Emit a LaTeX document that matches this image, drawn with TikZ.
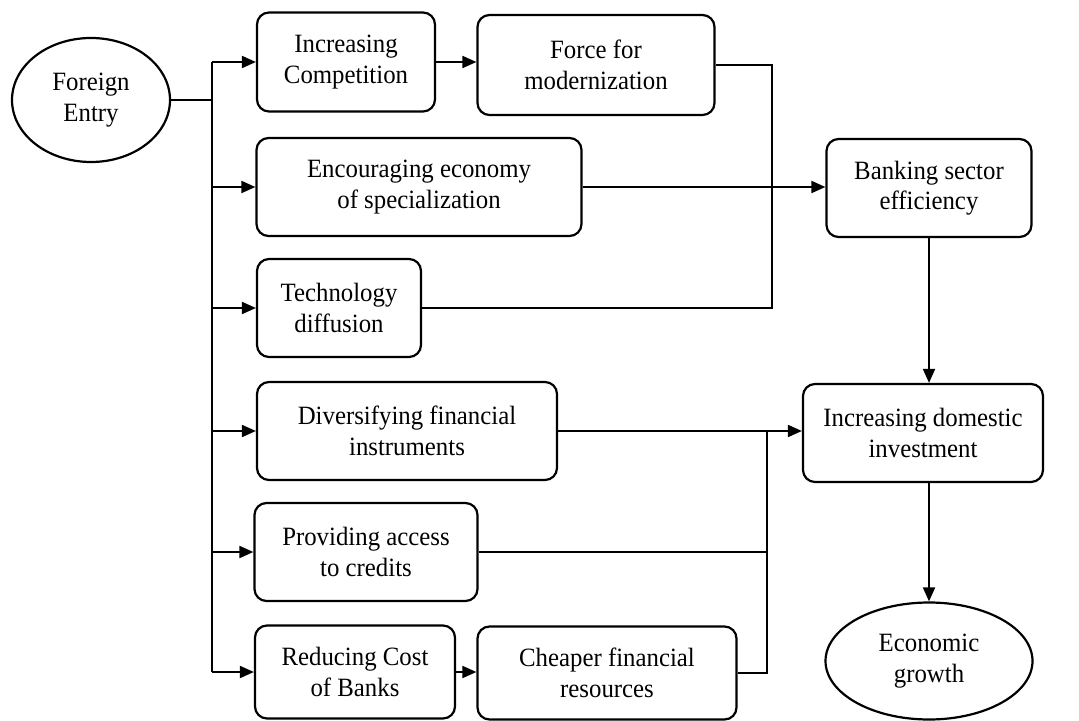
\documentclass[tikz,border=0pt]{standalone}
\usepackage{fontspec}
\setmainfont{Liberation Serif}[FakeStretch = 0.94]
\usetikzlibrary{positioning, shapes.geometric, arrows.meta}
\newcommand{\px}{0.5pt}
\tikzstyle{chart} = [x = \px, y = -\px, every node/.style={font=\fontsize{13.2}{15.2}\selectfont}]
\tikzstyle{boxStyle} = [draw, rounded corners = 6pt, line width = 1.1pt, align = center, inner sep = 0pt]
\tikzstyle{ovalStyle} = [draw, ellipse, line width = 1.1pt, align = center, inner sep = 0pt]
\tikzstyle{flowLine} = [line width = 0.9pt]
\tikzstyle{flowArrow} = [flowLine, -{Triangle[length = 7pt, width = 6pt]}]
\newcommand{\roundBox}[6]{\node [boxStyle, minimum width = #4*\px, minimum height = #5*\px] (#1) at (#2,#3) {#6};}
\newcommand{\ovalNode}[6]{\node [ovalStyle, minimum width = #4*\px, minimum height = #5*\px] (#1) at (#2,#3) {#6};}

\begin{document}
\begin{tikzpicture}[chart]
  \useasboundingbox (0,0) rectangle (1079,721);
  \ovalNode{entry}{91}{100}{158}{124}{Foreign\\Entry}
  \roundBox{comp}{346}{62}{178}{99}{Increasing\\Competition}
  \roundBox{force}{596}{65}{237}{100}{Force for\\modernization}
  \roundBox{enc}{419}{187}{325}{98}{Encouraging economy\\of specialization}
  \roundBox{tech}{339}{308}{164}{98}{Technology\\diffusion}
  \roundBox{div}{407}{431}{300}{98}{Diversifying financial\\instruments}
  \roundBox{prov}{366}{552}{223}{98}{Providing access\\to credits}
  \roundBox{red}{355}{672}{200}{93}{Reducing Cost\\of Banks}
  \roundBox{cheap}{607}{673}{259}{93}{Cheaper financial\\resources}
  \roundBox{bank}{929}{188}{205}{98}{Banking sector\\efficiency}
  \roundBox{inv}{923}{433}{240}{98}{Increasing domestic\\investment}
  \ovalNode{growth}{929}{661}{207}{117}{Economic\\growth}

  \coordinate (trunk) at (212,100);
  \coordinate (joinA) at (772,200);
  \coordinate (joinB) at (767,431);

  \draw [flowLine] (entry.east) -- (trunk);
  \draw [flowLine] (trunk |- comp.west) -- (trunk |- red.west);
  \foreach \target in {comp, enc, tech, div, prov, red} {
    \draw [flowArrow] (trunk |- \target.west) -- (\target.west);
  }
  \draw [flowArrow] (comp.east) -- (comp.east -| force.west);
  \draw [flowArrow] (red.east) -- (red.east -| cheap.west);
  \draw [flowLine] (force.east) -| (joinA) |- (tech.east);
  \draw [flowArrow] (enc.east) -- (enc.east -| bank.west);
  \draw [flowArrow] (bank.south) -- (bank.south |- inv.north);
  \draw [flowArrow] (div.east) -- (div.east -| inv.west);
  \draw [flowLine] (cheap.east) -| (joinB);
  \draw [flowLine] (prov.east) -- (prov.east -| joinB);
  \draw [flowArrow] (growth.north |- inv.south) -- (growth.north);
\end{tikzpicture}
\end{document}
